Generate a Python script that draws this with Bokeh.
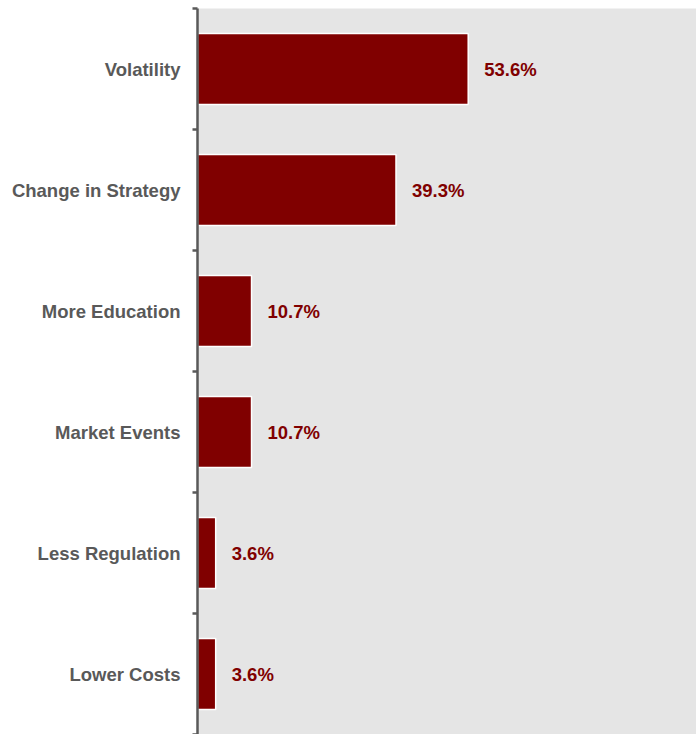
from bokeh.plotting import figure
from bokeh.models import Range1d, FixedTicker, ColumnDataSource
from bokeh.embed import file_html
from bokeh.resources import INLINE
from bokeh.core.properties import value

categories = ["Volatility", "Change in Strategy", "More Education",
              "Market Events", "Less Regulation", "Lower Costs"]
values = [53.6, 39.3, 10.7, 10.7, 3.6, 3.6]
value_labels = ["53.6%", "39.3%", "10.7%", "10.7%", "3.6%", "3.6%"]

n = len(categories)
# categories from top to bottom; positions on an integer scale 0..2n
ypos = [2 * (n - i) - 1 for i in range(n)]

src = ColumnDataSource(dict(y=ypos, v=values, lab=value_labels, cat=categories))

p = figure(width=696, height=734, output_backend="svg", toolbar_location=None,
           x_range=Range1d(0, 98.8), y_range=Range1d(0, 2 * n),
           x_axis_location=None, min_border_left=197, min_border_right=0,
           min_border_top=8, min_border_bottom=0)
p.background_fill_color = "#e5e5e5"
p.border_fill_color = "white"
p.outline_line_color = None
p.grid.visible = False

p.hbar(y="y", left=0, right="v", height=1.17, source=src,
       fill_color="#800000", line_color="white", line_width=1.5)

p.text(x="v", y="y", text="lab", source=src, x_offset=16,
       text_align="left", text_baseline="middle",
       text_font=value("Liberation Sans"), text_font_style="bold",
       text_font_size="18.5px", text_color="#800000")

ax = p.yaxis[0]
ax.ticker = FixedTicker(ticks=ypos, minor_ticks=list(range(0, 2 * n + 1, 2)))
ax.major_label_overrides = {y: c for y, c in zip(ypos, categories)}
ax.major_tick_line_color = None
ax.major_tick_out = 0
ax.major_tick_in = 0
ax.minor_tick_out = 5
ax.minor_tick_in = 0
ax.minor_tick_line_color = "#595959"
ax.minor_tick_line_width = 2.5
ax.axis_line_color = "#595959"
ax.axis_line_width = 2.5
ax.major_label_standoff = 12
ax.major_label_text_font = "Liberation Sans"
ax.major_label_text_font_style = "bold"
ax.major_label_text_font_size = "18.5px"
ax.major_label_text_color = "#595959"

open("out.html", "w").write(file_html(p, INLINE))
